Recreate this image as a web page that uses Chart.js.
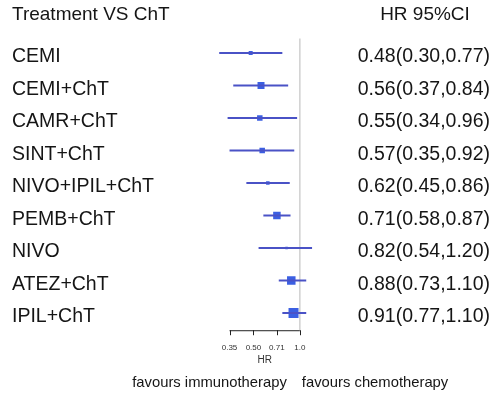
<!DOCTYPE html>
<html>
<head>
<meta charset="utf-8">
<title>Forest plot - Treatment VS ChT</title>
<script src="https://cdn.jsdelivr.net/npm/chart.js@4.4.0/dist/chart.umd.min.js"></script>
<style>
    body { margin: 0; background: #fff; }
    #forest { display: block; }
</style>
</head>
<body>
<canvas id="forest" width="491" height="398"></canvas>
<script>
// data
const treatments = ['CEMI', 'CEMI+ChT', 'CAMR+ChT', 'SINT+ChT', 'NIVO+IPIL+ChT', 'PEMB+ChT', 'NIVO', 'ATEZ+ChT', 'IPIL+ChT'];
const hr = [0.48, 0.56, 0.55, 0.57, 0.62, 0.71, 0.82, 0.88, 0.91];
const lower = [0.30, 0.37, 0.34, 0.35, 0.45, 0.58, 0.54, 0.73, 0.77];
const upper = [0.77, 0.84, 0.96, 0.92, 0.86, 0.87, 1.20, 1.10, 1.10];
// relative weight of each estimate (box size)
const weight = [4, 7, 5.5, 5.5, 3.5, 7.5, 2.5, 8.5, 10];
const axisTicks = [0.35, 0.50, 0.71, 1.0];
const tickLabels = ['0.35', '0.50', '0.71', '1.0'];

const FONT = '"Liberation Sans", Arial, sans-serif';
const lineColor = '#4a52c6';
const boxColor = '#3b5fe2';

// one line dataset per confidence interval
const ciDatasets = treatments.map((t, i) => ({
    type: 'line',
    label: t + ' CI',
    data: [{ x: lower[i], y: i }, { x: upper[i], y: i }],
    borderColor: lineColor,
    borderWidth: 2,
    pointRadius: 0,
    clip: false
}));

const boxDataset = {
    type: 'scatter',
    label: 'HR',
    data: hr.map((v, i) => ({ x: v, y: i })),
    pointStyle: 'rect',
    pointRadius: weight.map(w => w / 1.414),
    pointHoverRadius: weight.map(w => w / 1.414),
    backgroundColor: boxColor,
    borderWidth: 0,
    clip: false
};

const forestText = {
    id: 'forestText',
    beforeDatasetsDraw(chart) {
        const ctx = chart.ctx;
        const x = chart.scales.x;
        const y = chart.scales.y;
        const xRef = x.getPixelForValue(1);
        const top = y.getPixelForValue(-0.45);
        const axisY = y.getPixelForValue(8.53);

        ctx.save();
        // reference line at HR = 1
        ctx.strokeStyle = '#d0d0d0';
        ctx.lineWidth = 1.5;
        ctx.beginPath();
        ctx.moveTo(xRef, top);
        ctx.lineTo(xRef, axisY);
        ctx.stroke();

        // bottom axis
        ctx.strokeStyle = '#222';
        ctx.lineWidth = 1;
        ctx.beginPath();
        ctx.moveTo(x.getPixelForValue(axisTicks[0]), axisY + 0.5);
        ctx.lineTo(x.getPixelForValue(axisTicks[axisTicks.length - 1]), axisY + 0.5);
        axisTicks.forEach(t => {
            const px = Math.round(x.getPixelForValue(t)) + 0.5;
            ctx.moveTo(px, axisY);
            ctx.lineTo(px, axisY + 5);
        });
        ctx.stroke();
        ctx.restore();
    },
    afterDraw(chart) {
        const ctx = chart.ctx;
        const x = chart.scales.x;
        const y = chart.scales.y;
        const xRef = x.getPixelForValue(1);
        const axisY = y.getPixelForValue(8.53);

        ctx.save();
        ctx.fillStyle = '#151515';
        ctx.textBaseline = 'middle';

        // headers
        ctx.font = '19px ' + FONT;
        ctx.textAlign = 'left';
        ctx.fillText('Treatment VS ChT', 12, 15);
        ctx.textAlign = 'center';
        ctx.fillText('HR 95%CI', 425, 15);

        // rows
        treatments.forEach((t, i) => {
            const py = y.getPixelForValue(i) + 4;
            ctx.font = '19.5px ' + FONT;
            ctx.textAlign = 'left';
            ctx.fillText(t, 12, py);
            ctx.textAlign = 'right';
            ctx.fillText(hr[i].toFixed(2) + '(' + lower[i].toFixed(2) + ',' + upper[i].toFixed(2) + ')', 490, py);
        });

        // tick labels
        ctx.font = '8px ' + FONT;
        ctx.textAlign = 'center';
        ctx.fillStyle = '#333';
        axisTicks.forEach((t, i) => {
            ctx.fillText(tickLabels[i], x.getPixelForValue(t), axisY + 18);
        });
        ctx.font = '10px ' + FONT;
        ctx.fillText('HR', xRef - 35, axisY + 30);

        // favours labels
        ctx.fillStyle = '#151515';
        ctx.font = '14.8px ' + FONT;
        ctx.textAlign = 'right';
        ctx.fillText('favours immunotherapy', xRef - 13, axisY + 53);
        ctx.textAlign = 'left';
        ctx.fillText('favours chemotherapy', xRef + 2, axisY + 53);
        ctx.restore();
    }
};

new Chart(document.getElementById('forest'), {
    data: { datasets: [...ciDatasets, boxDataset] },
    options: {
        responsive: false,
        devicePixelRatio: 1,
        animation: false,
        events: [],
        layout: { padding: { left: 207, right: 164, top: 53, bottom: 85 } },
        plugins: {
            legend: { display: false },
            tooltip: { enabled: false }
        },
        scales: {
            x: { type: 'logarithmic', min: 0.25, max: 1.5, display: false },
            y: { type: 'linear', min: 0, max: 8, reverse: true, display: false }
        }
    },
    plugins: [forestText]
});
</script>
</body>
</html>
